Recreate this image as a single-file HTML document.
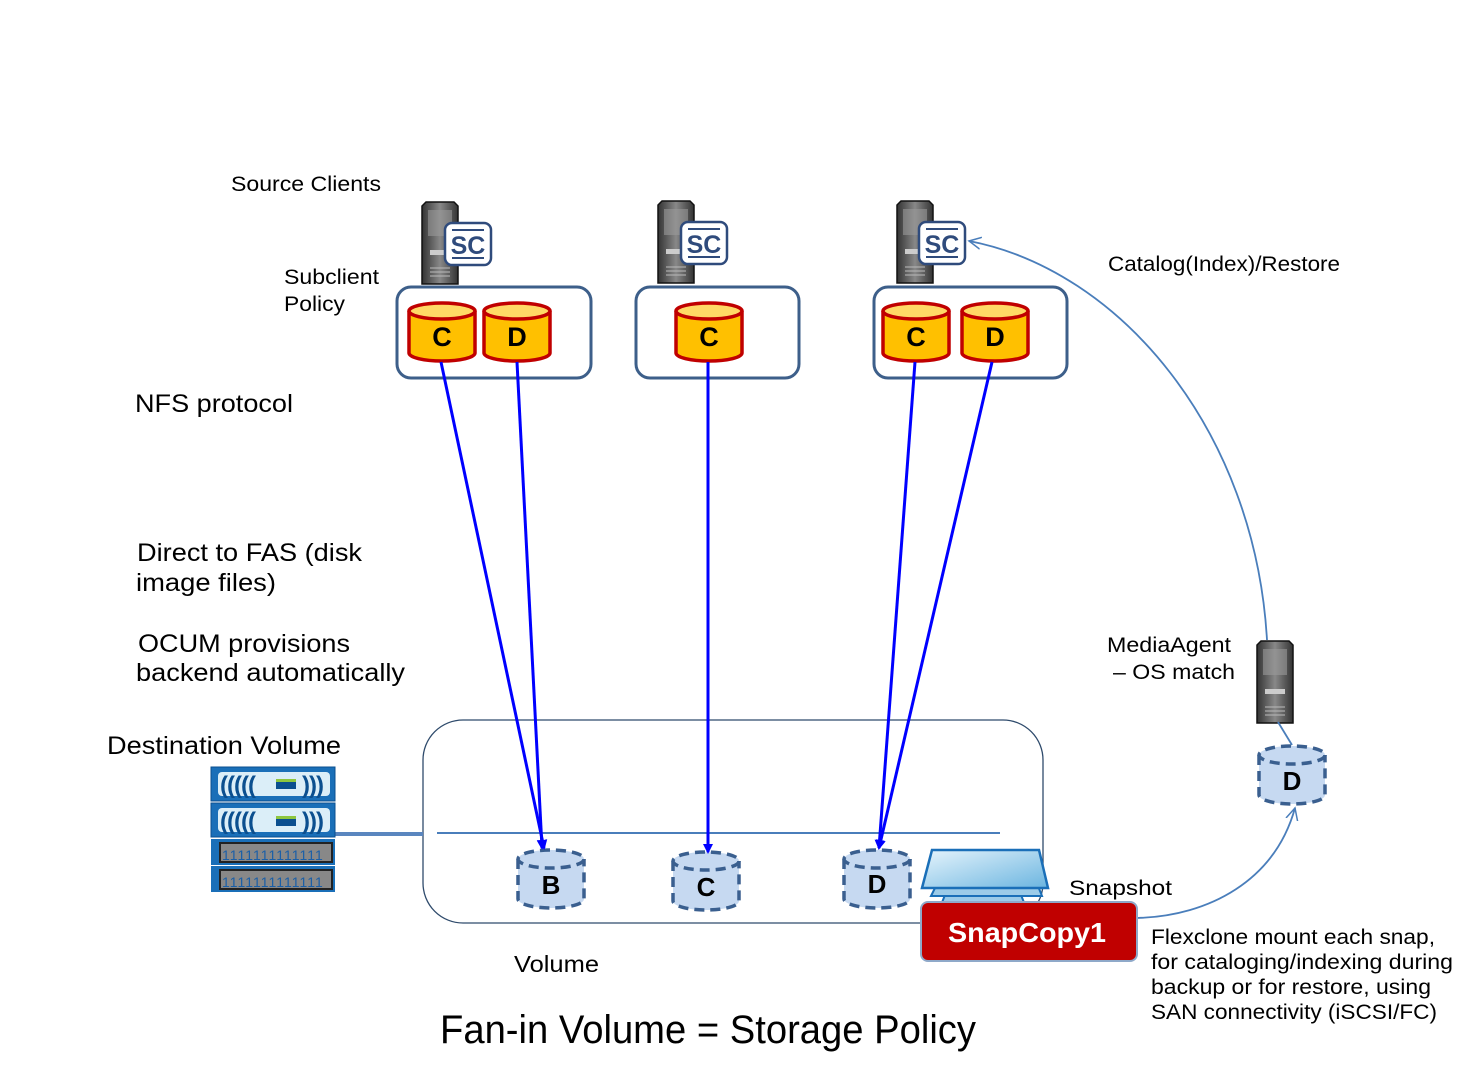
<!DOCTYPE html>
<html><head><meta charset="utf-8"><style>
html,body{margin:0;padding:0;background:#fff}
svg text{font-family:"Liberation Sans",Arial,sans-serif}
</style></head><body>
<svg width="1481" height="1075" viewBox="0 0 1481 1075" xmlns="http://www.w3.org/2000/svg">
<defs>
<marker id="ab" markerWidth="10" markerHeight="10" refX="8" refY="5" orient="auto" markerUnits="userSpaceOnUse"><path d="M0,0 L10,5 L0,10 z" fill="#0000ff"/></marker>
<marker id="ol" markerWidth="14" markerHeight="14" refX="12" refY="7" orient="auto" markerUnits="userSpaceOnUse"><path d="M0,1 L12,7 L0,13" fill="none" stroke="#4a7ebb" stroke-width="1.5"/></marker>
<linearGradient id="srv" x1="0" x2="1"><stop offset="0" stop-color="#333"/><stop offset=".5" stop-color="#888"/><stop offset="1" stop-color="#333"/></linearGradient>
<linearGradient id="trap" x1="0" y1="0" x2="1" y2="1"><stop offset="0" stop-color="#e6f4fc"/><stop offset="1" stop-color="#6bb5e0"/></linearGradient>
<g id="server"><path d="M0,4 L4,0 L32,0 L36,4 L36,82 L0,82 z" fill="url(#srv)" stroke="#111" stroke-width="1.5"/><rect x="6" y="8" width="24" height="26" fill="#999" opacity=".6"/><rect x="8" y="48" width="20" height="5" fill="#ccc"/><line x1="8" y1="66" x2="28" y2="66" stroke="#bbb"/><line x1="8" y1="70" x2="28" y2="70" stroke="#bbb"/><line x1="8" y1="74" x2="28" y2="74" stroke="#bbb"/></g>
<g id="sc"><rect x="0" y="0" width="46" height="42" rx="7" fill="#fff" stroke="#2f4b7c" stroke-width="2.5"/><line x1="7" y1="7" x2="39" y2="7" stroke="#2f4b7c" stroke-width="2"/><line x1="7" y1="35" x2="39" y2="35" stroke="#2f4b7c" stroke-width="2"/><text x="23" y="31" font-size="25" font-weight="bold" fill="#2f4b7c" text-anchor="middle">SC</text></g>
<g id="ycyl"><path d="M0,8 L0,50 A33,8 0 0 0 66,50 L66,8" fill="#ffc000" stroke="#c00000" stroke-width="3.5"/><ellipse cx="33" cy="8" rx="33" ry="8" fill="#ffd966" stroke="#c00000" stroke-width="3.5"/></g>
<g id="dcyl"><path d="M0,9 L0,49 A33,9 0 0 0 66,49 L66,9" fill="#c6d9f1" stroke="#3a5f8f" stroke-width="3.5" stroke-dasharray="10,6"/><ellipse cx="33" cy="9" rx="33" ry="9" fill="#c6d9f1" stroke="#3a5f8f" stroke-width="3.5" stroke-dasharray="10,6"/></g>
</defs>

<g lengthAdjust="spacingAndGlyphs">
<text x="231" y="191" font-size="21" textLength="150" lengthAdjust="spacingAndGlyphs">Source Clients</text>
<text x="284" y="284" font-size="21" textLength="95" lengthAdjust="spacingAndGlyphs">Subclient</text>
<text x="284" y="311" font-size="21" textLength="61" lengthAdjust="spacingAndGlyphs">Policy</text>
<text x="135" y="412" font-size="25" textLength="158" lengthAdjust="spacingAndGlyphs">NFS protocol</text>
<text x="137" y="561" font-size="25" textLength="225" lengthAdjust="spacingAndGlyphs">Direct to FAS (disk</text>
<text x="136" y="591" font-size="25" textLength="140" lengthAdjust="spacingAndGlyphs">image files)</text>
<text x="138" y="652" font-size="25" textLength="212" lengthAdjust="spacingAndGlyphs">OCUM provisions</text>
<text x="136" y="681" font-size="25" textLength="269" lengthAdjust="spacingAndGlyphs">backend automatically</text>
<text x="107" y="754" font-size="25" textLength="234" lengthAdjust="spacingAndGlyphs">Destination Volume</text>
<text x="1108" y="271" font-size="21" textLength="232" lengthAdjust="spacingAndGlyphs">Catalog(Index)/Restore</text>
<text x="1107" y="652" font-size="21" textLength="124" lengthAdjust="spacingAndGlyphs">MediaAgent</text>
<text x="1113" y="679" font-size="21" textLength="122" lengthAdjust="spacingAndGlyphs">– OS match</text>
<text x="1069" y="895" font-size="21" textLength="103" lengthAdjust="spacingAndGlyphs">Snapshot</text>
<text x="1151" y="944" font-size="21" textLength="284" lengthAdjust="spacingAndGlyphs">Flexclone mount each snap,</text>
<text x="1151" y="969" font-size="21" textLength="302" lengthAdjust="spacingAndGlyphs">for cataloging/indexing during</text>
<text x="1151" y="994" font-size="21" textLength="280" lengthAdjust="spacingAndGlyphs">backup or for restore, using</text>
<text x="1151" y="1019" font-size="21" textLength="286" lengthAdjust="spacingAndGlyphs">SAN connectivity (iSCSI/FC)</text>
<text x="514" y="972" font-size="23" textLength="85" lengthAdjust="spacingAndGlyphs">Volume</text>
<text x="440" y="1043" font-size="40" textLength="536" lengthAdjust="spacingAndGlyphs">Fan-in Volume = Storage Policy</text>
</g>

<!-- servers -->
<use href="#server" x="422" y="202"/><use href="#sc" x="445" y="223"/>
<use href="#server" x="658" y="201"/><use href="#sc" x="681" y="222"/>
<use href="#server" x="897" y="201"/><use href="#sc" x="919" y="222"/>
<use href="#server" x="1257" y="641"/>

<!-- policy boxes -->
<rect x="397" y="287" width="194" height="91" rx="14" fill="#fff" stroke="#3d5f8a" stroke-width="3"/>
<rect x="636" y="287" width="163" height="91" rx="14" fill="#fff" stroke="#3d5f8a" stroke-width="3"/>
<rect x="874" y="287" width="193" height="91" rx="14" fill="#fff" stroke="#3d5f8a" stroke-width="3"/>
<use href="#ycyl" x="409" y="303"/><text x="442" y="346" font-size="27" font-weight="bold" text-anchor="middle">C</text>
<use href="#ycyl" x="484" y="303"/><text x="517" y="346" font-size="27" font-weight="bold" text-anchor="middle">D</text>
<use href="#ycyl" x="676" y="303"/><text x="709" y="346" font-size="27" font-weight="bold" text-anchor="middle">C</text>
<use href="#ycyl" x="883" y="303"/><text x="916" y="346" font-size="27" font-weight="bold" text-anchor="middle">C</text>
<use href="#ycyl" x="962" y="303"/><text x="995" y="346" font-size="27" font-weight="bold" text-anchor="middle">D</text>

<!-- volume box -->
<rect x="423" y="720" width="620" height="203" rx="40" fill="none" stroke="#2f4b6c" stroke-width="1.3"/>
<line x1="437" y1="833" x2="1000" y2="833" stroke="#4a7ebb" stroke-width="2"/>
<line x1="335" y1="834" x2="423" y2="834" stroke="#5a86bf" stroke-width="4"/>

<!-- destination storage -->
<g>
<rect x="211" y="767" width="124" height="34" fill="#1a6fb8" stroke="#0b4f8f"/><rect x="218" y="772" width="112" height="24" rx="4" fill="#dbeef8"/>
<text x="220" y="793" font-size="24" font-weight="bold" fill="#0b4f8f" letter-spacing="-1">(((((</text><rect x="276" y="782" width="20" height="7" fill="#0b4f8f"/><rect x="276" y="779" width="20" height="3" fill="#8dc63f"/><text x="302" y="793" font-size="24" font-weight="bold" fill="#0b4f8f" letter-spacing="-1">)))</text>
<rect x="211" y="803" width="124" height="34" fill="#1a6fb8" stroke="#0b4f8f"/><rect x="218" y="808" width="112" height="24" rx="4" fill="#dbeef8"/>
<text x="220" y="829" font-size="24" font-weight="bold" fill="#0b4f8f" letter-spacing="-1">(((((</text><rect x="276" y="819" width="20" height="7" fill="#0b4f8f"/><rect x="276" y="816" width="20" height="3" fill="#8dc63f"/><text x="302" y="829" font-size="24" font-weight="bold" fill="#0b4f8f" letter-spacing="-1">)))</text>
<rect x="211" y="839" width="124" height="26" fill="#1a6fb8"/><rect x="220" y="843" width="112" height="19" fill="#888" stroke="#222" stroke-width="2"/>
<text x="222" y="860" font-size="14" fill="#1a5fa8" letter-spacing="1">1111111111111</text>
<rect x="211" y="866" width="124" height="26" fill="#1a6fb8"/><rect x="220" y="870" width="112" height="19" fill="#888" stroke="#222" stroke-width="2"/>
<text x="222" y="887" font-size="14" fill="#1a5fa8" letter-spacing="1">1111111111111</text>
</g>

<!-- dashed cylinders -->
<use href="#dcyl" x="518" y="850"/><text x="551" y="894" font-size="26" font-weight="bold" text-anchor="middle">B</text>
<use href="#dcyl" x="673" y="852"/><text x="706" y="896" font-size="26" font-weight="bold" text-anchor="middle">C</text>
<use href="#dcyl" x="844" y="850"/><text x="877" y="893" font-size="26" font-weight="bold" text-anchor="middle">D</text>
<use href="#dcyl" x="1259" y="746"/><text x="1292" y="790" font-size="26" font-weight="bold" text-anchor="middle">D</text>

<!-- blue arrows -->
<g stroke="#0000ff" stroke-width="3" fill="none">
<line x1="441" y1="362" x2="544" y2="848" marker-end="url(#ab)"/>
<line x1="517" y1="362" x2="542" y2="848" marker-end="url(#ab)"/>
<line x1="708" y1="362" x2="708" y2="852" marker-end="url(#ab)"/>
<line x1="915" y1="362" x2="879" y2="848" marker-end="url(#ab)"/>
<line x1="992" y1="362" x2="879" y2="848" marker-end="url(#ab)"/>
</g>

<!-- curves -->
<path d="M1267,640 C1255,430 1120,270 969,241" fill="none" stroke="#4a7ebb" stroke-width="1.8" marker-end="url(#ol)"/>
<line x1="1278" y1="722" x2="1292" y2="745" stroke="#4a7ebb" stroke-width="1.8"/>
<path d="M1137,918 C1210,916 1275,880 1295,808" fill="none" stroke="#4a7ebb" stroke-width="1.8" marker-end="url(#ol)"/>

<!-- snapshot -->
<path d="M941,905 L945,895 L1021,895 L1025,905 z" fill="#9ccbe8" stroke="#1a6fb8" stroke-width="2"/>
<path d="M931,896 L936,886 L1038,886 L1042,896 z" fill="#9ccbe8" stroke="#1a6fb8" stroke-width="2"/>
<path d="M922,888 L932,850 L1039,850 L1048,888 z" fill="url(#trap)" stroke="#1a6fb8" stroke-width="2.5"/>
<rect x="921" y="902" width="216" height="59" rx="7" fill="#c00000" stroke="#8fa9c9" stroke-width="2"/>
<text x="948" y="942" font-size="28" font-weight="bold" fill="#fff" textLength="158" lengthAdjust="spacingAndGlyphs">SnapCopy1</text>
</svg>
</body></html>
